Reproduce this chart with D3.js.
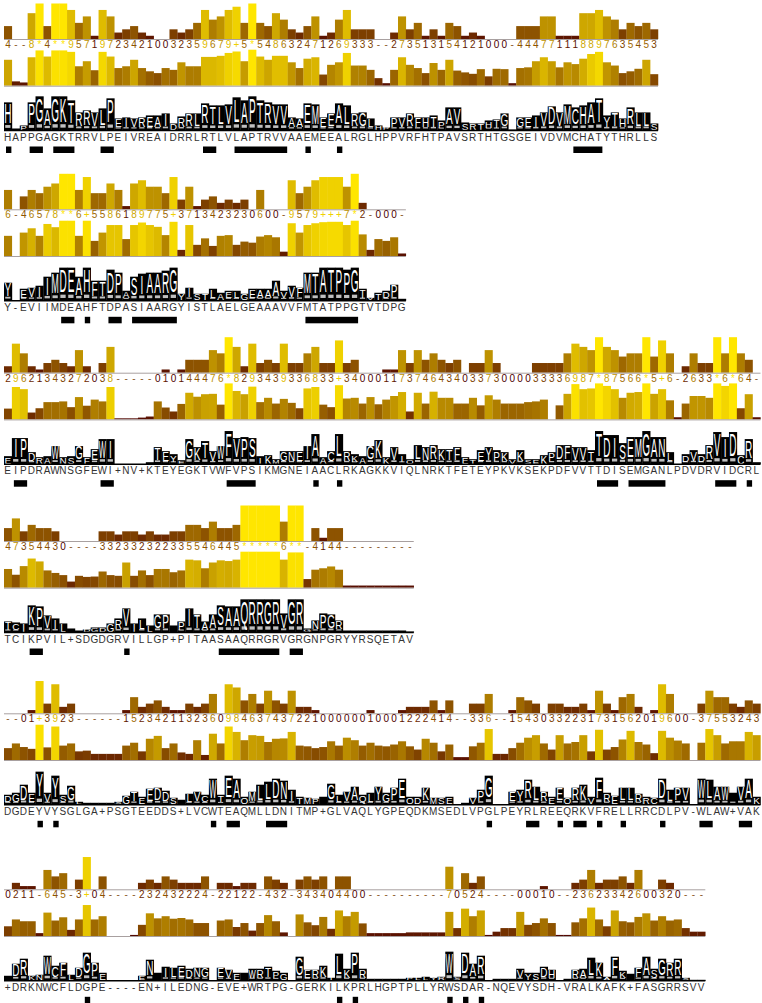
<!DOCTYPE html>
<html>
<head>
<meta charset="utf-8">
<script src="https://cdn.jsdelivr.net/npm/d3@7"></script>
<style>
  body { margin: 0; background: #fff; }
  text { font-family: "Liberation Sans", Arial, sans-serif; }
</style>
</head>
<body>
<div id="chart"></div>
<script>
// ---- block 1 ----
const seq1 = "HAPPGAGKTRRVLPEIVREAIDRRLRTLVLAPTRVVAAEMEEALRGLHPPVRFHTPAVSRTHTGSGEIVDVMCHATYTHRLLS";
const cons1 = ["4--8*4**95", "7197234210", "032359679+", "5*54863247", "1269333--2",
  "7351315412", "1000-44477", "1118897635", "453"].join("");
const qual1 = [72, 12, 9, 79, 98, 81, 98, 98, 94, 54,
  68, 43, 94, 81, 49, 54, 72, 49, 40, 35,
  49, 44, 65, 54, 54, 80, 80, 83, 91, 95,
  68, 100, 81, 72, 83, 83, 65, 49, 75, 79,
  31, 58, 65, 91, 56, 56, 44, 21, 7, 44,
  79, 58, 49, 35, 63, 44, 72, 42, 37, 33,
  46, 26, 47, 46, 7, 49, 51, 68, 79, 68,
  51, 65, 60, 75, 88, 94, 65, 56, 35, 40,
  47, 72, 32];
const logo1 = [84, 6, 15, 84, 102, 66, 102, 102, 90, 54,
  60, 54, 66, 96, 36, 39, 36, 39, 45, 45,
  51, 21, 42, 51, 51, 81, 75, 75, 78, 99,
  90, 102, 90, 84, 78, 78, 39, 36, 81, 78,
  39, 51, 81, 75, 51, 54, 36, 15, 9, 39,
  39, 51, 39, 39, 45, 30, 69, 69, 24, 21,
  21, 30, 33, 51, 3, 39, 39, 45, 54, 72,
  54, 78, 69, 75, 84, 96, 45, 54, 36, 69,
  54, 54, 21];
const feat1 = [[0, 0], [3, 4], [6, 8], [12, 13], [25, 26], [29, 35], [38, 38], [42, 42], [72, 75]];

// ---- block 2 ----
const seq2 = "Y-EVIIMDEAHFTDPASIAARGYISTLAELGEAAAVVFMTATPPGTVTDPG";
const cons2 = ["6-46578**6", "+558618977", "5+37134232", "30600-9579", "+++7*2-000", "-"].join("");
const qual2 = [56, 0, 65, 77, 56, 89, 80, 98, 98, 56,
  98, 42, 65, 86, 86, 47, 86, 93, 86, 81,
  58, 95, 17, 86, 31, 49, 28, 56, 58, 31,
  40, 37, 54, 58, 52, 12, 91, 65, 86, 91,
  94, 95, 95, 86, 98, 60, 17, 47, 42, 52,
  7];
const logo2 = [54, 0, 36, 39, 45, 72, 84, 99, 99, 72,
  99, 60, 60, 93, 84, 30, 72, 81, 84, 84,
  90, 99, 21, 39, 21, 21, 36, 24, 30, 30,
  21, 36, 36, 36, 60, 30, 45, 39, 84, 84,
  99, 99, 99, 93, 99, 36, 9, 24, 30, 48,
  6];
const feat2 = [[7, 8], [10, 10], [13, 14], [16, 21], [38, 44]];

// ---- block 3 ----
const seq3 = "EIPDRAWNSGFEWI+NV+KTEYEGKTVWFVPSIKMGNEIAACLRKAGKKVIQLNRKTFETEYPKVKSEKPDFVVTTDISEMGANLPDVDRVIDCRL";
const cons3 = ["2962134327", "2038-----0", "10144476*8", "2934393368", "33+3400011",
  "7374643403", "3730000333", "36987*8756", "6*5+6-2633", "*6*64-"].join("");
const qual3 = [30, 90, 84, 19, 31, 48, 48, 50, 34, 62,
  38, 55, 50, 90, 3, 3, 3, 5, 8, 50,
  33, 22, 43, 74, 63, 70, 71, 41, 100, 79,
  70, 91, 48, 60, 44, 57, 46, 31, 86, 90,
  41, 34, 95, 58, 60, 44, 62, 42, 55, 65,
  76, 22, 74, 44, 77, 60, 60, 44, 44, 60,
  39, 67, 55, 44, 44, 44, 48, 50, 55, 0,
  39, 71, 98, 84, 86, 100, 93, 84, 60, 74,
  76, 100, 71, 84, 53, 6, 44, 65, 65, 60,
  100, 93, 100, 31, 70, 6];
const logo3 = [24, 78, 78, 36, 21, 24, 54, 21, 24, 54,
  21, 45, 75, 75, 0, 0, 0, 0, 6, 51,
  39, 30, 12, 75, 51, 69, 39, 54, 99, 78,
  81, 78, 24, 27, 15, 39, 39, 39, 54, 90,
  21, 39, 90, 39, 30, 24, 54, 72, 21, 51,
  30, 15, 57, 51, 57, 45, 45, 51, 21, 15,
  42, 51, 42, 36, 15, 42, 15, 15, 27, 36,
  57, 57, 51, 51, 42, 99, 87, 87, 63, 81,
  81, 99, 81, 81, 36, 0, 30, 42, 30, 57,
  96, 81, 96, 27, 75, 6];
const feat3 = [[1, 2], [12, 13], [28, 31], [39, 39], [42, 42], [75, 77], [79, 83], [90, 92], [94, 94]];

// ---- block 4 ----
const seq4 = "TCIKPVIL+SDGDGRVILLGP+PITAASAAQRRGRVGRGNPGRYYRSQETAV";
const cons4 = ["47354430--", "--33233232", "2335546445", "*****6**-4", "144-------", "--"].join("");
const qual4 = [52, 36, 60, 81, 73, 48, 41, 35, 17, 33,
  30, 31, 45, 35, 33, 70, 33, 48, 35, 52,
  52, 43, 48, 78, 76, 54, 70, 76, 74, 78,
  100, 100, 100, 100, 100, 78, 98, 98, 24, 50,
  54, 59, 50, 6, 6, 6, 6, 6, 6, 6,
  6, 6];
const logo4 = [33, 30, 27, 81, 78, 51, 42, 27, 12, 6,
  9, 15, 15, 27, 42, 72, 27, 42, 21, 54,
  54, 21, 33, 72, 54, 33, 54, 81, 78, 78,
  99, 99, 99, 99, 99, 57, 99, 99, 12, 36,
  57, 54, 36, 6, 6, 6, 6, 6, 6, 6,
  6, 3];
const feat4 = [[3, 4], [15, 15], [27, 34], [36, 37]];

// ---- block 5 ----
const seq5 = "DGDEYVYSGLGA+PSGTEEDDS+LVCWTEAQMLLDNITMP+GLVAQLYGPEQDKMSEDLVPGLPEYRLREEQRKVFRELLRRCDLPV-WLAW+VAK";
const cons5 = ["--01+3923-", "-----15234", "2113236098", "4637437221", "0000001000",
  "1222414--3", "36--154303", "3223173156", "2019600-37", "553243"].join("");
const qual5 = [33, 46, 36, 31, 98, 35, 93, 40, 46, 24,
  26, 17, 17, 17, 17, 40, 48, 24, 59, 67,
  33, 46, 21, 17, 55, 14, 73, 46, 93, 78,
  55, 69, 67, 50, 59, 60, 78, 40, 38, 33,
  36, 52, 40, 62, 55, 40, 48, 40, 38, 43,
  52, 38, 29, 59, 48, 24, 43, 8, 8, 38,
  48, 86, 17, 17, 33, 48, 62, 69, 46, 29,
  69, 46, 50, 69, 24, 84, 29, 36, 57, 81,
  50, 43, 19, 81, 62, 54, 46, 0, 48, 86,
  69, 46, 52, 52, 78, 69];
const logo5 = [30, 36, 60, 36, 99, 36, 87, 30, 57, 9,
  6, 6, 6, 6, 9, 27, 39, 24, 48, 51,
  42, 21, 15, 33, 39, 30, 78, 30, 87, 78,
  24, 39, 60, 69, 78, 72, 45, 24, 21, 18,
  24, 63, 30, 39, 54, 30, 36, 54, 36, 51,
  78, 24, 24, 51, 21, 21, 24, 0, 6, 21,
  45, 87, 0, 0, 39, 45, 75, 54, 39, 24,
  51, 21, 51, 60, 24, 81, 36, 27, 51, 51,
  33, 24, 21, 78, 45, 51, 51, 0, 78, 75,
  54, 54, 36, 54, 78, 24];
const feat5 = [[4, 4], [6, 6], [26, 26], [28, 29], [33, 35], [61, 61], [66, 67], [70, 70],
  [72, 73], [75, 75], [78, 78], [83, 83], [88, 89], [93, 94]];

// ---- block 6 ----
const seq6 = "+DRKNWCFLDGPE----EN+ILEDNG-EVE+WRTPG-GERKILKPRLHGPTPLLYRWSDAR-NQEVYSDH-VRALKAFK+FASGRRSVV";
const cons6 = ["0211-645-3", "+04----232", "432224-221", "22-432-343", "404400----",
  "------7052", "4----00010", "--23623342", "600320---"].join("");
const qual6 = [27, 46, 41, 41, 8, 65, 43, 52, 17, 46,
  86, 46, 55, 0, 0, 0, 3, 31, 63, 49,
  55, 48, 50, 46, 36, 36, 0, 43, 46, 25,
  36, 15, 36, 58, 41, 10, 0, 60, 38, 30,
  53, 20, 71, 55, 67, 35, 8, 8, 8, 8,
  8, 10, 10, 10, 10, 10, 67, 22, 76, 55,
  71, 3, 12, 22, 22, 67, 31, 36, 49, 36,
  3, 3, 38, 49, 79, 46, 27, 71, 41, 38,
  53, 63, 43, 55, 43, 46, 22, 12, 12];
const logo6 = [15, 51, 66, 15, 18, 75, 45, 54, 18, 39,
  84, 54, 24, 0, 0, 0, 0, 15, 63, 24,
  42, 39, 45, 36, 39, 39, 0, 39, 33, 24,
  24, 36, 36, 42, 30, 24, 0, 72, 33, 33,
  45, 9, 81, 36, 84, 36, 6, 6, 6, 6,
  6, 9, 9, 12, 9, 12, 87, 12, 84, 51,
  75, 0, 6, 6, 6, 36, 24, 24, 42, 33,
  0, 6, 33, 36, 69, 54, 12, 72, 30, 21,
  39, 72, 36, 66, 54, 66, 9, 3, 3];
const feat6 = [[10, 10], [42, 42], [44, 44], [56, 56], [58, 58], [60, 60]];

const blocks = [
  { seq: seq1, cons: cons1, qual: qual1, logo: logo1, feat: feat1 },
  { seq: seq2, cons: cons2, qual: qual2, logo: logo2, feat: feat2 },
  { seq: seq3, cons: cons3, qual: qual3, logo: logo3, feat: feat3 },
  { seq: seq4, cons: cons4, qual: qual4, logo: logo4, feat: feat4 },
  { seq: seq5, cons: cons5, qual: qual5, logo: logo5, feat: feat5 },
  { seq: seq6, cons: cons6, qual: qual6, logo: logo6, feat: feat6 }
];
// conservation baseline of each wrapped block
const blockBase = [39, 209.3, 372.7, 541, 713.3, 889.3];

const W = 762, H = 1003, cw = 7.88, x0 = 4;
const svg = d3.select("#chart").append("svg").attr("width", W).attr("height", H);
svg.append("rect").attr("width", W).attr("height", H).attr("fill", "#fff");

const consH = d3.scaleLinear().domain([0, 11]).range([0, 35.5]);
const qualH = d3.scaleLinear().domain([0, 100]).range([0, 36]);
const logoH = d3.scaleLinear().domain([0, 100]).range([0, 33.5]);
// jalview style brown -> yellow
const shade = p => d3.rgb(255 * (0.3 + 0.7 * p), 255 * 0.9 * p, 0).toString();

function consValue(c) {
  if (c === "*") return 11;
  if (c === "+") return 10;
  if (c === "-" || c === " ") return null;
  return +c;
}

blocks.forEach((b, k) => {
  const n = b.seq.length;
  const base = blockBase[k];
  const x = d3.scaleBand().domain(d3.range(n)).range([x0, x0 + n * cw]);
  const right = x0 + n * cw;
  const g = svg.append("g");
  const cols = b.seq.split("").map((s, i) => ({
    i, s, c: b.cons[i], v: consValue(b.cons[i]), q: b.qual[i], l: b.logo[i]
  }));

  // conservation
  g.selectAll("rect.cons").data(cols.filter(d => d.v)).enter().append("rect")
    .attr("x", d => x(d.i)).attr("width", x.bandwidth() + 0.2)
    .attr("y", d => base - consH(d.v)).attr("height", d => consH(d.v))
    .attr("fill", d => shade(d.v / 11));
  g.append("line").attr("x1", x0).attr("x2", right).attr("y1", base + 0.5).attr("y2", base + 0.5)
    .attr("stroke", "#a8a0a0").attr("stroke-width", 1);
  g.selectAll("text.cons").data(cols).enter().append("text")
    .attr("x", d => x(d.i) + cw / 2).attr("y", base + 9)
    .attr("text-anchor", "middle").attr("font-size", 10)
    .attr("fill", d => d.v === null ? "#8b5a2b" : shade(d.v / 11))
    .text(d => d.c);

  // quality
  const qb = base + 46.7;
  g.selectAll("rect.qual").data(cols.filter(d => d.q > 0)).enter().append("rect")
    .attr("x", d => x(d.i)).attr("width", x.bandwidth() + 0.2)
    .attr("y", d => qb - qualH(d.q)).attr("height", d => qualH(d.q))
    .attr("fill", d => shade(d.q / 100));
  g.append("line").attr("x1", x0).attr("x2", right).attr("y1", qb + 0.5).attr("y2", qb + 0.5)
    .attr("stroke", "#a8a0a0").attr("stroke-width", 1);

  // consensus logo
  const lb = base + 91.5;
  const lg = g.selectAll("g.logo").data(cols.filter(d => d.l > 0)).enter().append("g");
  lg.append("rect")
    .attr("x", d => x(d.i)).attr("width", x.bandwidth() + 0.3)
    .attr("y", d => lb - logoH(d.l)).attr("height", d => logoH(d.l))
    .attr("fill", "#000");
  // small white speckle standing for the minor residues at the foot of a column
  lg.filter(d => logoH(d.l) >= 10).append("rect")
    .attr("x", d => x(d.i) + 1.2).attr("width", cw - 2.6)
    .attr("y", d => lb - 1.5 - logoH(d.l) * 0.14).attr("height", d => logoH(d.l) * 0.1)
    .attr("fill", "#fff").attr("opacity", 0.75);
  lg.filter(d => /[A-Z]/.test(d.s) && logoH(d.l) >= 2.5).each(function (d) {
    const h = logoH(d.l);
    const tall = h >= 10;
    const hl = tall ? h * 0.7 : h - 1;
    const bottom = tall ? lb - h * 0.26 : lb - 0.5;
    const t = d3.select(this).append("text")
      .attr("text-anchor", "middle").attr("font-size", 10).attr("fill", "#fff")
      .attr("transform", `translate(${x(d.i) + cw / 2},${bottom}) scale(1,${hl / 7.2})`)
      .text(d.s);
    if ("MW".includes(d.s)) t.attr("textLength", cw - 0.6).attr("lengthAdjust", "spacingAndGlyphs");
  });
  g.append("line").attr("x1", x0).attr("x2", right).attr("y1", lb).attr("y2", lb)
    .attr("stroke", "#000").attr("stroke-width", 1.5);

  // sequence
  g.selectAll("text.seq").data(cols).enter().append("text")
    .attr("x", d => x(d.i) + cw / 2 - 0.3).attr("y", base + 101.5)
    .attr("text-anchor", "middle").attr("font-size", 10).attr("fill", "#333")
    .text(d => d.s);

  // feature bars
  g.selectAll("rect.feat").data(b.feat).enter().append("rect")
    .attr("x", d => x(d[0]) + 2).attr("width", d => x(d[1]) + cw - 0.5 - x(d[0]) - 2)
    .attr("y", base + 107.5).attr("height", 6.5).attr("fill", "#000");
});
</script>
</body>
</html>
